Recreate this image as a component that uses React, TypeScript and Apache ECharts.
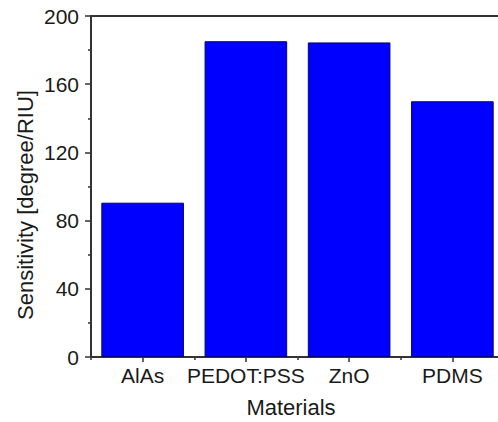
import React, { useEffect, useRef } from "react";
import * as echarts from "echarts";

const categories = ["AlAs", "PEDOT:PSS", "ZnO", "PDMS"];
const sensitivity = [90.5, 185.2, 184.5, 150];
const yTicks = { min: 0, max: 200, interval: 40 };
const xTitle = "Materials";
const yTitle = "Sensitivity [degree/RIU]";

export default function App() {
  const ref = useRef<HTMLDivElement>(null);
  useEffect(() => {
    if (!ref.current) return;
    const chart = echarts.init(ref.current, undefined, { renderer: "svg" });
    const font = "'Liberation Sans', Arial, sans-serif";
    chart.setOption({
      animation: false,
      backgroundColor: "#fff",
      grid: {
        left: 91,
        top: 16,
        right: -6,
        bottom: 65,
        outerBoundsMode: "none",
        containLabel: false,
        show: false,
      },
      xAxis: [
        {
          type: "category",
          data: categories,
          position: "bottom",
          axisLine: { show: true, lineStyle: { color: "#333", width: 2 } },
          axisTick: { show: true, alignWithLabel: true, length: 5, lineStyle: { color: "#333", width: 1.5 } },
          axisLabel: { interval: 0, color: "#1a1a1a", fontSize: 21, fontFamily: font, margin: 8 },
        },
        {
          type: "category",
          data: categories,
          position: "bottom",
          axisLine: { show: false },
          axisTick: { show: true, alignWithLabel: false, length: 3, lineStyle: { color: "#333", width: 1.5 } },
          axisLabel: { show: false },
        },
        {
          type: "category",
          data: categories,
          position: "top",
          axisLine: { show: true, lineStyle: { color: "#333", width: 2 } },
          axisTick: { show: false },
          axisLabel: { show: false },
        },
      ],
      yAxis: {
        type: "value",
        min: yTicks.min,
        max: yTicks.max,
        interval: yTicks.interval,
        axisLine: { show: true, lineStyle: { color: "#333", width: 2 } },
        axisTick: { show: true, length: 6, lineStyle: { color: "#333", width: 1.5 } },
        minorTick: { show: true, splitNumber: 2, length: 3, lineStyle: { color: "#333", width: 1.5 } },
        splitLine: { show: false },
        axisLabel: { color: "#1a1a1a", fontSize: 21, fontFamily: font, margin: 12 },
      },
      graphic: [
        {
          type: "text",
          x: 291,
          y: 407,
          style: {
            text: xTitle,
            fill: "#1a1a1a",
            font: `22px ${font}`,
            textAlign: "center",
            textVerticalAlign: "middle",
          },
        },
        {
          type: "text",
          x: 25,
          y: 205,
          rotation: Math.PI / 2,
          style: {
            text: yTitle,
            fill: "#1a1a1a",
            font: `22px ${font}`,
            textAlign: "center",
            textVerticalAlign: "middle",
          },
        },
      ],
      series: [
        {
          type: "bar",
          data: sensitivity,
          barCategoryGap: "20%",
          itemStyle: { color: "#0000FF", borderColor: "#00007a", borderWidth: 1 },
        },
      ],
    });
    return () => chart.dispose();
  }, []);
  return <div ref={ref} style={{ width: 498, height: 422, position: "absolute", left: 0, top: 0 }} />;
}
